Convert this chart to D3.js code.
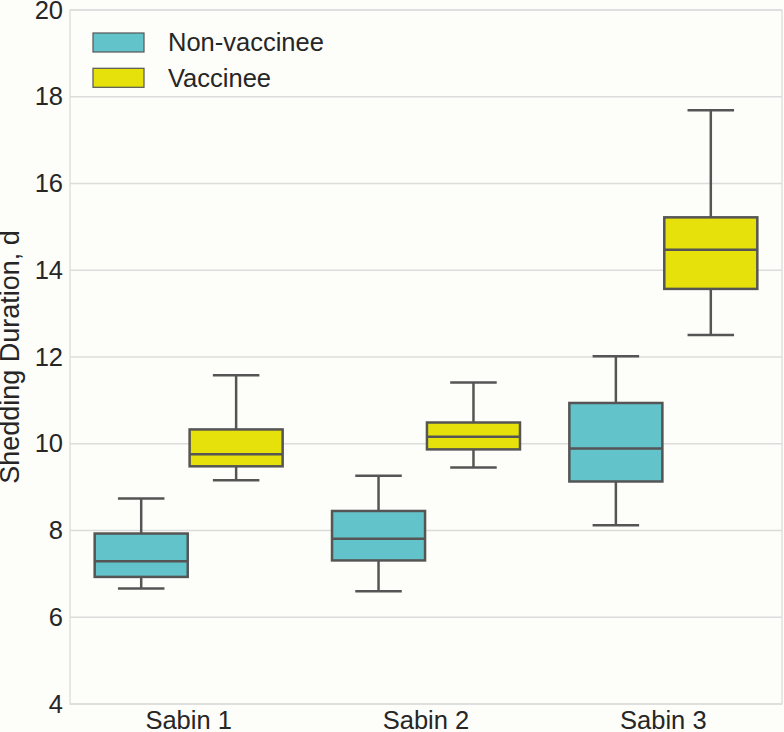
<!DOCTYPE html>
<html>
<head>
<meta charset="utf-8">
<script src="https://cdn.jsdelivr.net/npm/d3@7"></script>
<style>
  html, body { margin: 0; padding: 0; background: #fdfdf9; }
  svg { display: block; }
  text { font-family: "Liberation Sans", Arial, sans-serif; fill: #262626; }
</style>
</head>
<body>
<svg id="chart" width="784" height="732"></svg>
<script>
// ---- data ----
const categories = ["Sabin 1", "Sabin 2", "Sabin 3"];
const groups = ["Non-vaccinee", "Vaccinee"];
const groupColors = ["#63c3cb", "#e6e10a"];
const yTicks = [4, 6, 8, 10, 12, 14, 16, 18, 20];

// box statistics per category (Sabin 1, Sabin 2, Sabin 3)
const nonVaccineeLow    = [6.66, 6.60, 8.12];
const nonVaccineeQ1     = [6.93, 7.31, 9.13];
const nonVaccineeMedian = [7.29, 7.81, 9.89];
const nonVaccineeQ3     = [7.93, 8.45, 10.94];
const nonVaccineeHigh   = [8.74, 9.26, 12.02];

const vaccineeLow    = [9.16, 9.45, 12.51];
const vaccineeQ1     = [9.48, 9.87, 13.57];
const vaccineeMedian = [9.76, 10.16, 14.47];
const vaccineeQ3     = [10.33, 10.49, 15.22];
const vaccineeHigh   = [11.58, 11.41, 17.69];

const stats = {
  "Non-vaccinee": { low: nonVaccineeLow, q1: nonVaccineeQ1, med: nonVaccineeMedian, q3: nonVaccineeQ3, high: nonVaccineeHigh },
  "Vaccinee": { low: vaccineeLow, q1: vaccineeQ1, med: vaccineeMedian, q3: vaccineeQ3, high: vaccineeHigh }
};

// ---- layout ----
const svg = d3.select("#chart");
const mLeft = 70, mRight = 782, mTop = 10, mBottom = 704;
const lineColor = "#555555";
const gridColor = "#dcdcdc";
const fontSize = 25.5;

const x = d3.scaleBand().domain(categories).range([mLeft, mRight]).padding(0);
const y = d3.scaleLinear().domain([4, 20]).range([mBottom, mTop]);
const bw = x.bandwidth();
const hue = d3.scaleBand().domain(groups).range([-0.4 * bw, 0.4 * bw]).padding(0);
const boxW = hue.bandwidth() * 0.98;

// grid lines
svg.append("g")
  .selectAll("line")
  .data(yTicks)
  .join("line")
  .attr("x1", mLeft).attr("x2", mRight)
  .attr("y1", d => y(d)).attr("y2", d => y(d))
  .attr("stroke", gridColor).attr("stroke-width", 1.3);

// frame
svg.append("rect")
  .attr("x", mLeft).attr("y", mTop)
  .attr("width", mRight - mLeft).attr("height", mBottom - mTop)
  .attr("fill", "none").attr("stroke", gridColor).attr("stroke-width", 1.3);

// y axis
const yAxis = d3.axisLeft(y).tickValues(yTicks).tickSize(0).tickPadding(7).tickFormat(d3.format("d"));
const yg = svg.append("g").attr("transform", `translate(${mLeft},0)`).call(yAxis);
yg.select(".domain").remove();
yg.selectAll("text").attr("font-size", fontSize).style("font-family", "Liberation Sans, Arial, sans-serif").attr("fill", "#262626");

// x axis
const xAxis = d3.axisBottom(x).tickSize(0).tickPadding(7);
const xg = svg.append("g").attr("transform", `translate(0,${mBottom})`).call(xAxis);
xg.select(".domain").remove();
xg.selectAll("text").attr("font-size", fontSize).style("font-family", "Liberation Sans, Arial, sans-serif").attr("fill", "#262626");

// y label
svg.append("text")
  .attr("transform", `translate(19,${(mTop + mBottom) / 2}) rotate(-90)`)
  .attr("text-anchor", "middle")
  .attr("font-size", 27)
  .text("Shedding Duration, d");

// boxes
groups.forEach((g, gi) => {
  const s = stats[g];
  const gg = svg.append("g");
  categories.forEach((c, ci) => {
    const cx = x(c) + bw / 2 + hue(g) + hue.bandwidth() / 2;
    const b = gg.append("g");
    // whiskers
    b.append("line").attr("x1", cx).attr("x2", cx).attr("y1", y(s.q3[ci])).attr("y2", y(s.high[ci]))
      .attr("stroke", lineColor).attr("stroke-width", 2.5);
    b.append("line").attr("x1", cx).attr("x2", cx).attr("y1", y(s.q1[ci])).attr("y2", y(s.low[ci]))
      .attr("stroke", lineColor).attr("stroke-width", 2.5);
    // caps
    [s.high[ci], s.low[ci]].forEach(v => {
      b.append("line").attr("x1", cx - boxW / 4).attr("x2", cx + boxW / 4)
        .attr("y1", y(v)).attr("y2", y(v))
        .attr("stroke", lineColor).attr("stroke-width", 2.5);
    });
    // box
    b.append("rect")
      .attr("x", cx - boxW / 2).attr("width", boxW)
      .attr("y", y(s.q3[ci])).attr("height", y(s.q1[ci]) - y(s.q3[ci]))
      .attr("fill", groupColors[gi]).attr("stroke", lineColor).attr("stroke-width", 2.5);
    // median
    b.append("line").attr("x1", cx - boxW / 2).attr("x2", cx + boxW / 2)
      .attr("y1", y(s.med[ci])).attr("y2", y(s.med[ci]))
      .attr("stroke", lineColor).attr("stroke-width", 2.5);
  });
});

// legend
const legend = svg.append("g");
groups.forEach((g, gi) => {
  const cy = 42.5 + gi * 35.3;
  legend.append("rect")
    .attr("x", 93).attr("y", cy - 9.5).attr("width", 51).attr("height", 19)
    .attr("fill", groupColors[gi]).attr("stroke", lineColor).attr("stroke-width", 1.2);
  legend.append("text")
    .attr("x", 168).attr("y", cy).attr("dy", "0.35em")
    .attr("font-size", fontSize)
    .text(g);
});
</script>
</body>
</html>
